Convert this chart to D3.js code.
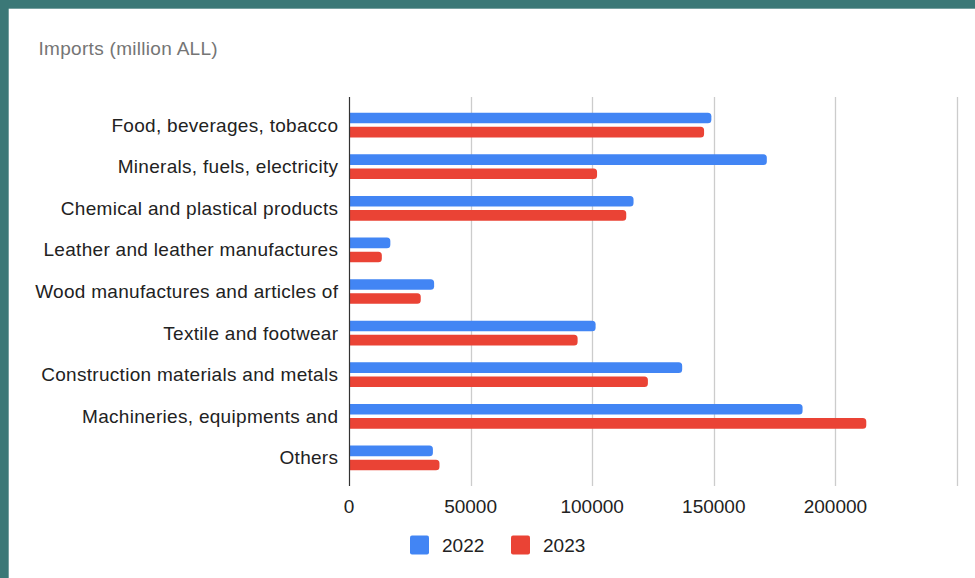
<!DOCTYPE html>
<html>
<head>
<meta charset="utf-8">
<script src="https://cdn.jsdelivr.net/npm/d3@7"></script>
<style>
  html, body { margin: 0; padding: 0; background: #ffffff; }
  svg { display: block; font-family: "Liberation Sans", Arial, sans-serif; }
</style>
</head>
<body>
<svg id="chart" width="975" height="578"></svg>
<script>
// Import categories (top to bottom)
const categories = [
  "Food, beverages, tobacco",
  "Minerals, fuels, electricity",
  "Chemical and plastical products",
  "Leather and leather manufactures",
  "Wood manufactures and articles of",
  "Textile and footwear",
  "Construction materials and metals",
  "Machineries, equipments and",
  "Others"
];

// Series names and colours
const seriesNames = ["2022", "2023"];
const seriesColors = ["#4285f4", "#ea4335"];

// Imports, million ALL
const values2022 = [149000, 171800, 117000, 17000, 35000, 101400, 137000, 186500, 34500];
const values2023 = [146000, 102000, 114000, 13500, 29500, 94000, 122900, 212700, 37200];

// Axis ticks
const gridTicks = [0, 50000, 100000, 150000, 200000, 250000];
const tickLabels = ["0", "50000", "100000", "150000", "200000"];

const title = "Imports (million ALL)";

const svg = d3.select("#chart");
const W = 975, H = 578;
const FONT = 19;

// Frame: teal strip on top and left, white card
svg.append("rect").attr("x", 0).attr("y", 0).attr("width", W).attr("height", H).attr("fill", "#3b7877");
svg.append("rect").attr("x", 8.7).attr("y", 8.7).attr("width", W - 8.7).attr("height", H - 8.7).attr("fill", "#ffffff");

const plotTop = 97, plotBottom = 486;

const x = d3.scaleLinear().domain([0, 250000]).range([349, 957]);

const y0 = d3.scaleBand()
  .domain(categories)
  .range([plotTop, plotBottom])
  .paddingInner(0.406)
  .paddingOuter(0.378);

const y1 = d3.scaleBand()
  .domain(seriesNames)
  .range([0, y0.bandwidth()])
  .paddingInner(0.25);

// Vertical gridlines
svg.append("g")
  .selectAll("line")
  .data(gridTicks.slice(1))
  .join("line")
  .attr("x1", d => Math.round(x(d)) + 0.5)
  .attr("x2", d => Math.round(x(d)) + 0.5)
  .attr("y1", plotTop)
  .attr("y2", plotBottom)
  .attr("stroke", "#cccccc")
  .attr("stroke-width", 1.3);

// Bars with rounded right ends
function barPath(x0, x1, yTop, h, r) {
  const w = x1 - x0;
  const rr = Math.min(r, w / 2, h / 2);
  return `M${x0},${yTop}` +
    `H${x1 - rr}` +
    `A${rr},${rr} 0 0 1 ${x1},${yTop + rr}` +
    `V${yTop + h - rr}` +
    `A${rr},${rr} 0 0 1 ${x1 - rr},${yTop + h}` +
    `H${x0}Z`;
}

const rows = categories.map((c, i) => ({
  category: c,
  values: [
    { series: seriesNames[0], value: values2022[i], color: seriesColors[0] },
    { series: seriesNames[1], value: values2023[i], color: seriesColors[1] }
  ]
}));

svg.append("g")
  .selectAll("g")
  .data(rows)
  .join("g")
  .attr("transform", d => `translate(0,${y0(d.category)})`)
  .selectAll("path")
  .data(d => d.values)
  .join("path")
  .attr("d", d => barPath(x(0), x(d.value), y1(d.series), y1.bandwidth(), 3.5))
  .attr("fill", d => d.color);

// Baseline axis at zero
svg.append("line")
  .attr("x1", Math.round(x(0)) + 0.5)
  .attr("x2", Math.round(x(0)) + 0.5)
  .attr("y1", plotTop)
  .attr("y2", plotBottom)
  .attr("stroke", "#333333")
  .attr("stroke-width", 1.2);

// Category labels
svg.append("g")
  .selectAll("text")
  .data(categories)
  .join("text")
  .attr("x", 338.3)
  .attr("y", d => y0(d) + y0.bandwidth() / 2)
  .attr("text-anchor", "end")
  .attr("dominant-baseline", "central")
  .attr("font-size", FONT)
  .attr("letter-spacing", 0.3)
  .attr("fill", "#222222")
  .text(d => d);

// Value tick labels
svg.append("g")
  .selectAll("text")
  .data(tickLabels)
  .join("text")
  .attr("x", (d, i) => x(gridTicks[i]))
  .attr("y", 506)
  .attr("text-anchor", "middle")
  .attr("dominant-baseline", "central")
  .attr("font-size", FONT)
  .attr("fill", "#222222")
  .text(d => d);

// Title
svg.append("text")
  .attr("x", 38.5)
  .attr("y", 48.5)
  .attr("dominant-baseline", "central")
  .attr("font-size", FONT)
  .attr("letter-spacing", 0.3)
  .attr("fill", "#757575")
  .text(title);

// Legend
const legendX = [410, 511];
const legend = svg.append("g")
  .selectAll("g")
  .data(seriesNames)
  .join("g")
  .attr("transform", (d, i) => `translate(${legendX[i]},535.5)`);

legend.append("rect")
  .attr("width", 19)
  .attr("height", 19)
  .attr("rx", 2)
  .attr("fill", (d, i) => seriesColors[i]);

legend.append("text")
  .attr("x", 32)
  .attr("y", 9.5)
  .attr("dominant-baseline", "central")
  .attr("font-size", FONT)
  .attr("fill", "#222222")
  .text(d => d);
</script>
</body>
</html>
